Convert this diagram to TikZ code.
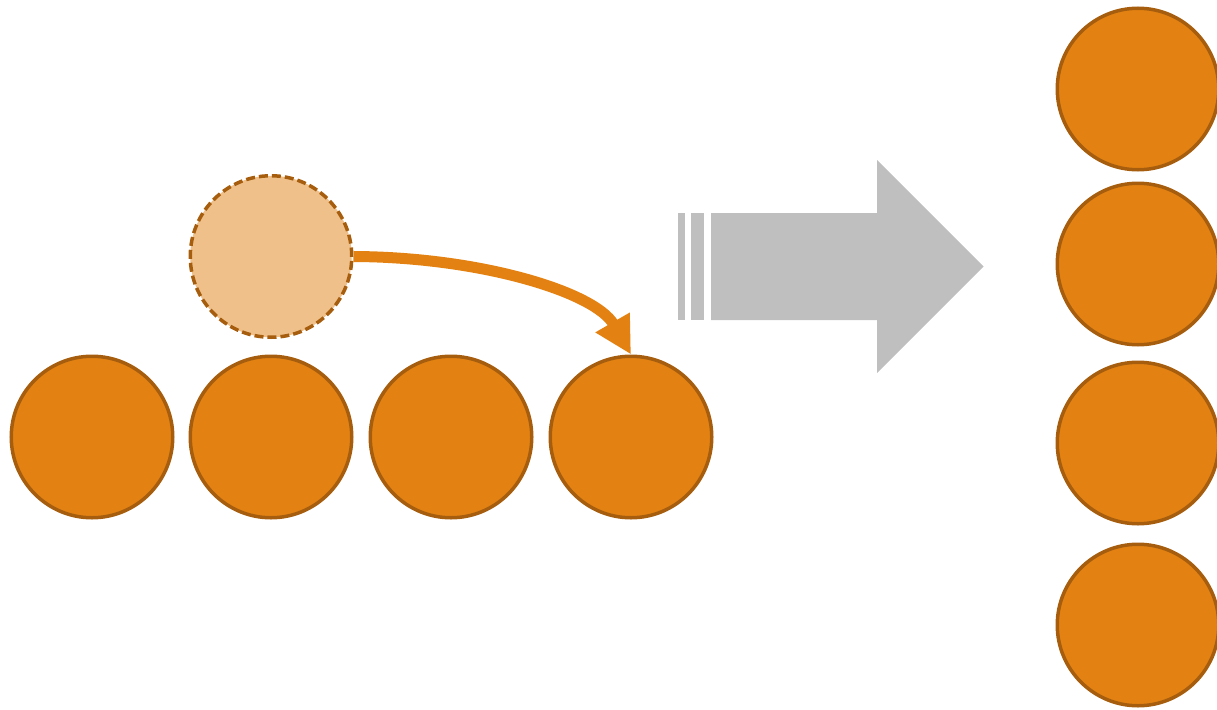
\documentclass[tikz,border=0pt]{standalone}
\usetikzlibrary{arrows.meta}
\definecolor{ballfill}{RGB}{227,130,18}
\definecolor{balledge}{RGB}{166,94,14}
\definecolor{ghostfill}{RGB}{240,192,138}
\definecolor{arrowgray}{RGB}{191,191,191}
\tikzset{
  ball/.style={circle, draw=balledge, fill=ballfill, line width=3.5pt, minimum size=161.5pt, inner sep=0pt},
  ghost/.style={ball, fill=ghostfill, dash pattern=on 9pt off 4pt},
  move/.style={draw=ballfill, line width=11pt, -{Triangle[length=37pt,width=37pt]}},
  bigarrow/.style={fill=arrowgray, draw=none}
}
\begin{document}
\begin{tikzpicture}[x=1pt,y=-1pt]
\useasboundingbox (0,0) rectangle (1217,709);
% bottom row
\node[ball] (c1) at (92,437) {};
\node[ball] (c2) at (271,437) {};
\node[ball] (c3) at (451,437) {};
\node[ball] (c4) at (631,437) {};
% ghost ball
\node[ghost] (d) at (271,256.5) {};
% right column
\node[ball] (r1) at (1138,89) {};
\node[ball] (r2) at (1138,264) {};
\node[ball] (r3) at (1138,443) {};
\node[ball] (r4) at (1138,625) {};
% curved move arrow
\draw[move] (d.east) .. controls (480,257) and (595,292) .. (c4.north);
% big gray arrow
\fill[bigarrow] (678,213) rectangle (685,320);
\fill[bigarrow] (691,213) rectangle (704,320);
\fill[bigarrow] (711,213) -- (877,213) -- (877,160) -- (983.5,266.5) -- (877,373) -- (877,320) -- (711,320) -- cycle;
\end{tikzpicture}
\end{document}
